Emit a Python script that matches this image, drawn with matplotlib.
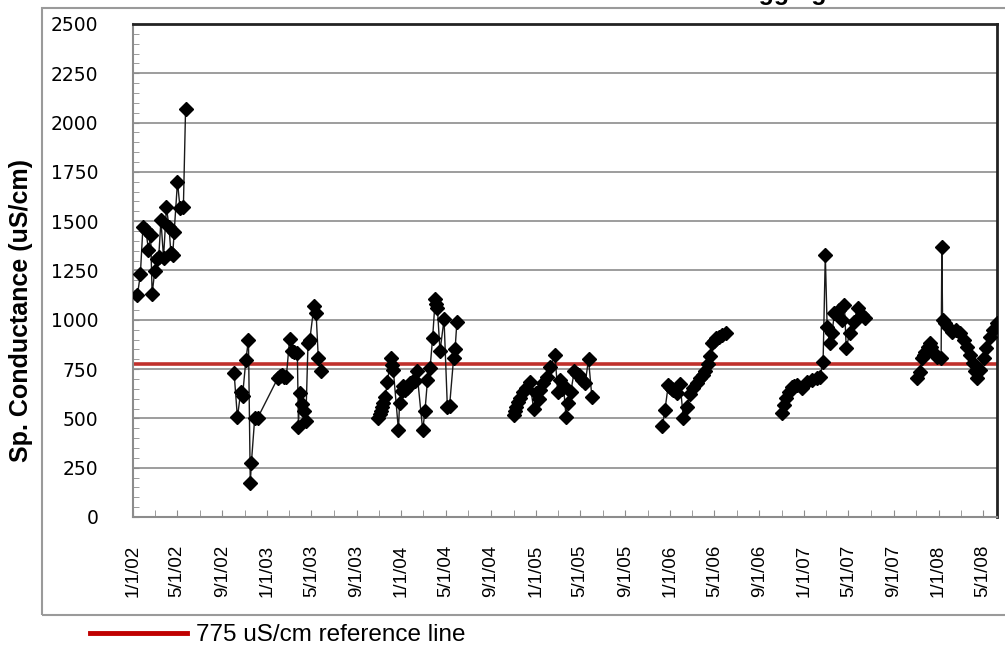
import numpy as np
import pandas as pd
import matplotlib
matplotlib.use("Agg")
import matplotlib.pyplot as plt
import matplotlib.dates as mdates
from matplotlib.lines import Line2D
from matplotlib.patches import Rectangle
from matplotlib.ticker import MultipleLocator, FuncFormatter

plt.rcParams['font.family'] = ['Liberation Sans', 'DejaVu Sans']

# ---- data (sampling date, sp. conductance uS/cm) ----
dates_2002 = ["2002-01-13", "2002-01-21", "2002-01-28", "2002-02-05", "2002-02-12", "2002-02-18",
              "2002-02-22", "2002-03-01", "2002-03-07", "2002-03-12", "2002-03-18", "2002-03-25",
              "2002-04-02", "2002-04-09", "2002-04-14", "2002-04-19", "2002-04-23", "2002-05-02",
              "2002-05-09", "2002-05-18", "2002-05-24"]
cond_2002 = [1125, 1230, 1470, 1455, 1355, 1430, 1130, 1245, 1310, 1320, 1505, 1315,
             1570, 1470, 1340, 1330, 1445, 1700, 1565, 1570, 2070]

dates_2003 = ["2002-10-03", "2002-10-12", "2002-10-21", "2002-10-26", "2002-11-04", "2002-11-11",
              "2002-11-16", "2002-11-19", "2002-11-28", "2002-12-06", "2003-01-30", "2003-02-05",
              "2003-02-10", "2003-02-17", "2003-02-22", "2003-03-03", "2003-03-10", "2003-03-16",
              "2003-03-24", "2003-03-27", "2003-03-30", "2003-04-05", "2003-04-10", "2003-04-16",
              "2003-04-22", "2003-04-27", "2003-05-08", "2003-05-14", "2003-05-20", "2003-05-26"]
cond_2003 = [730, 505, 635, 615, 795, 900, 172, 275, 500, 502, 705, 715,
             720, 712, 710, 905, 840, 835, 830, 455, 630, 575, 540, 485,
             880, 900, 1068, 1035, 805, 740]

dates_2004 = ["2003-10-30", "2003-11-03", "2003-11-06", "2003-11-10", "2003-11-13", "2003-11-18",
              "2003-11-24", "2003-12-03", "2003-12-07", "2003-12-10", "2003-12-24", "2003-12-27",
              "2004-01-02", "2004-01-06", "2004-01-12", "2004-01-16", "2004-01-21", "2004-01-25",
              "2004-02-03", "2004-02-08", "2004-02-12", "2004-02-28", "2004-03-05", "2004-03-12",
              "2004-03-19", "2004-03-26", "2004-04-02", "2004-04-05", "2004-04-08", "2004-04-15",
              "2004-04-26", "2004-05-05", "2004-05-11", "2004-05-22", "2004-05-26", "2004-05-31"]
cond_2004 = [500, 520, 535, 560, 578, 610, 686, 805, 770, 745, 440, 578,
             640, 662, 645, 655, 670, 680, 695, 690, 742, 440, 535, 695,
             755, 910, 1105, 1080, 1058, 840, 1002, 560, 562, 805, 850, 990]

dates_2005 = ["2004-11-02", "2004-11-06", "2004-11-09", "2004-11-14", "2004-11-18", "2004-11-27",
              "2004-12-06", "2004-12-15", "2004-12-26", "2005-01-02", "2005-01-08", "2005-01-12",
              "2005-01-21", "2005-01-31", "2005-02-09", "2005-02-22", "2005-03-01", "2005-03-08",
              "2005-03-13", "2005-03-17", "2005-03-24", "2005-03-28", "2005-04-06", "2005-04-15",
              "2005-04-22", "2005-04-27", "2005-05-06", "2005-05-15", "2005-05-24", "2005-06-02"]
cond_2005 = [517, 540, 560, 585, 602, 635, 655, 686, 546, 627, 600, 645,
             678, 712, 762, 820, 636, 695, 650, 662, 505, 578, 636, 738,
             725, 720, 695, 680, 800, 610]

dates_2006 = ["2005-12-11", "2005-12-18", "2005-12-27", "2006-01-01", "2006-01-06", "2006-01-10",
              "2006-01-19", "2006-01-28", "2006-02-06", "2006-02-15", "2006-02-24", "2006-03-05",
              "2006-03-14", "2006-03-23", "2006-03-30", "2006-04-06", "2006-04-13", "2006-04-19",
              "2006-04-24", "2006-04-30", "2006-05-07", "2006-05-14", "2006-05-21", "2006-06-02"]
cond_2006 = [462, 545, 670, 660, 650, 645, 630, 675, 500, 560, 622, 655,
             680, 706, 722, 740, 775, 815, 882, 895, 908, 915, 925, 933]

dates_2007 = ["2006-11-01", "2006-11-07", "2006-11-13", "2006-11-19", "2006-11-28", "2006-12-05",
              "2006-12-12", "2006-12-25", "2007-01-08", "2007-01-22", "2007-02-04", "2007-02-13",
              "2007-02-21", "2007-02-27", "2007-03-04", "2007-03-11", "2007-03-17", "2007-03-24",
              "2007-04-04", "2007-04-13", "2007-04-20", "2007-04-25", "2007-05-04", "2007-05-15",
              "2007-05-26", "2007-06-07", "2007-06-16"]
cond_2007 = [526, 568, 602, 635, 661, 665, 669, 653, 686, 695, 703, 711,
             788, 1328, 965, 881, 932, 1033, 1050, 999, 1075, 855, 932, 990,
             1058, 1024, 1007]

dates_2008 = ["2007-11-03", "2007-11-12", "2007-11-17", "2007-11-22", "2007-11-26", "2007-12-03",
              "2007-12-08", "2007-12-12", "2007-12-17", "2007-12-28", "2008-01-08", "2008-01-10",
              "2008-01-12", "2008-01-19", "2008-01-28", "2008-02-07", "2008-02-18", "2008-02-29",
              "2008-03-09", "2008-03-18", "2008-03-27", "2008-04-05", "2008-04-10", "2008-04-15",
              "2008-04-24", "2008-05-03", "2008-05-10", "2008-05-19", "2008-05-28", "2008-06-08"]
cond_2008 = [703, 737, 805, 820, 838, 860, 881, 860, 838, 813, 805, 1371,
             999, 982, 965, 940, 948, 932, 898, 864, 821, 779, 740, 703,
             745, 805, 855, 914, 948, 982]

reference_value = 775
reference_label = "775 uS/cm reference line"
y_label = "Sp. Conductance (uS/cm)"

segments = [(dates_2002, cond_2002), (dates_2003, cond_2003), (dates_2004, cond_2004),
            (dates_2005, cond_2005), (dates_2006, cond_2006), (dates_2007, cond_2007),
            (dates_2008, cond_2008)]

W, H = 1005, 647
fig = plt.figure(figsize=(W / 100, H / 100), dpi=100)
ax = fig.add_axes([133 / W, 130 / H, 864 / W, 493 / H])

# outer chart-area border (Excel style)
fig.patches.append(Rectangle((42 / W, (H - 615) / H), (W - 42 + 20) / W, 607 / H,
                             transform=fig.transFigure, fill=False,
                             edgecolor="#9a9a9a", lw=1.5, zorder=0))

ax.set_axisbelow(True)
ax.yaxis.grid(True, color="#8c8c8c", lw=1.2)

for d, v in segments:
    ax.plot(pd.to_datetime(d), v, color="#1a1a1a", lw=1.0, marker="D",
            markersize=7, markerfacecolor="black", markeredgecolor="black", zorder=3)

ax.axhline(reference_value, color="#C0302B", lw=2.6, zorder=2)

ax.set_ylim(0, 2500)
ax.set_xlim(pd.Timestamp("2002-01-01"), pd.Timestamp("2008-06-08"))

ax.yaxis.set_major_locator(MultipleLocator(250))
ax.yaxis.set_minor_locator(MultipleLocator(50))
ax.xaxis.set_major_locator(mdates.MonthLocator(bymonth=[1, 5, 9]))
ax.xaxis.set_minor_locator(mdates.MonthLocator(bymonth=[3, 7, 11]))
ax.xaxis.set_major_formatter(FuncFormatter(
    lambda x, pos: "{}/{}/{}".format(mdates.num2date(x).month, mdates.num2date(x).day,
                                     mdates.num2date(x).strftime("%y"))))

ax.tick_params(axis="y", which="both", direction="in", length=4, color="#8c8c8c",
               pad=25, labelsize=13.5)
ax.tick_params(axis="x", which="both", direction="in", length=5, color="#8c8c8c",
               pad=20, labelsize=13.5)
for lab in ax.get_yticklabels():
    lab.set_family("Liberation Sans Narrow")
plt.setp(ax.get_xticklabels(), rotation=90, va="top", ha="center")

for side in ["left", "bottom"]:
    ax.spines[side].set_color("#8c8c8c")
    ax.spines[side].set_linewidth(1.5)
for side in ["top", "right"]:
    ax.spines[side].set_color("#222222")
    ax.spines[side].set_linewidth(2)

fig.text(21 / W, 1 - 310 / H, y_label, rotation=90, ha="center", va="center",
         fontsize=18, fontweight="bold")

# cut-off chart title at the very top of the picture
fig.text(826 / W, 1.0, "Data Logging", ha="right", va="baseline",
         fontsize=18, fontweight="bold")

fig.legend(handles=[Line2D([], [], color="#C00000", lw=3.5)], labels=[reference_label],
           loc="center left", bbox_to_anchor=(90 / W, 1 - 635 / H), frameon=False,
           fontsize=17.5, handlelength=4.0, handletextpad=0.35, borderpad=0,
           borderaxespad=0)

fig.savefig("out.png", dpi=100)
